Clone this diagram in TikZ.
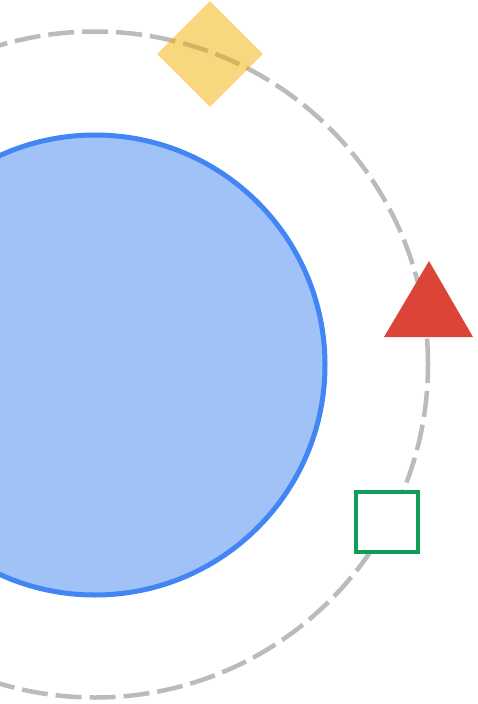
\documentclass[tikz,border=0pt]{standalone}
\usetikzlibrary{shapes.geometric}
\definecolor{gblue}{HTML}{4285F4}
\definecolor{gbluefill}{HTML}{A1C2F7}
\definecolor{gred}{HTML}{DB4437}
\definecolor{ggreen}{HTML}{0F9D58}
\definecolor{gyellow}{HTML}{F1AF00}
\definecolor{ggray}{HTML}{BBBBBB}
\tikzset{
  orbit/.style={circle, draw=ggray, line width=4.5pt, dash pattern=on 26pt off 8pt, inner sep=0pt, minimum size=666pt},
  planet/.style={circle, draw=gblue, fill=gbluefill, line width=5pt, inner sep=0pt, minimum size=460pt},
  diamondmark/.style={diamond, fill=gyellow, fill opacity=0.5, inner sep=0pt, minimum width=106pt, minimum height=106pt},
  squaremark/.style={rectangle, draw=ggreen, fill=white, line width=4pt, inner sep=0pt, minimum width=62pt, minimum height=60pt}
}
\begin{document}
\begin{tikzpicture}[x=1pt,y=-1pt]
\useasboundingbox (0,0) rectangle (477,704);
\node[planet] (planet) at (95,365) {};
\node[orbit] (orbit) at (95,364.5) {};
\node[diamondmark] (dia) at (210,54) {};
\fill[gred] (429,261) -- (473,337) -- (384,337) -- cycle;
\coordinate (tri) at (429,311);
\node[squaremark] (sq) at (387,522) {};
\end{tikzpicture}
\end{document}
